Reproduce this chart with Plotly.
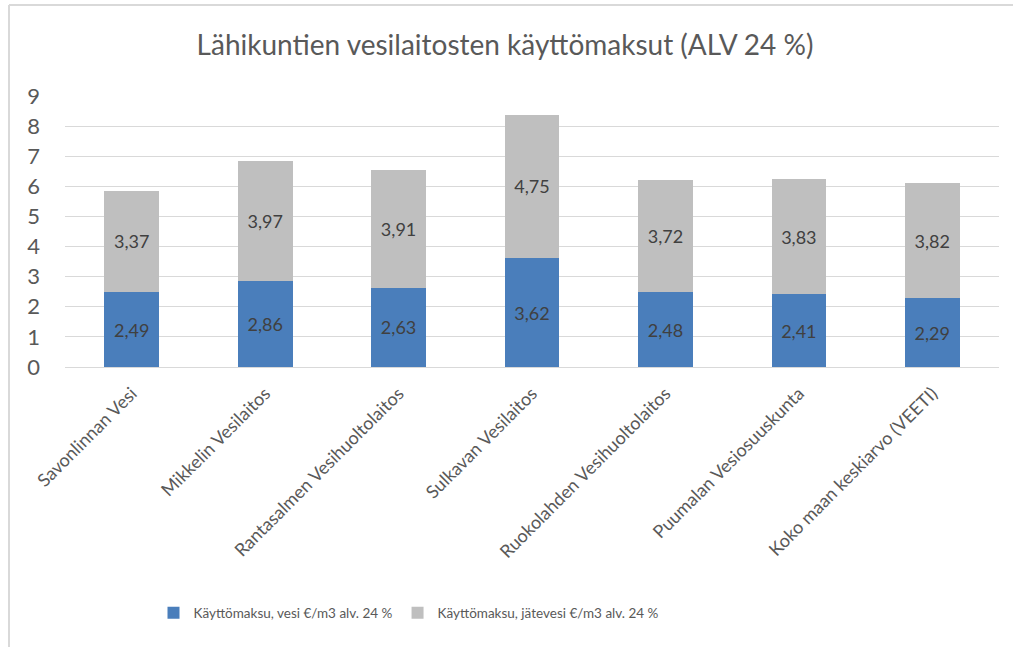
import plotly.graph_objects as go

categories = ["Savonlinnan Vesi", "Mikkelin Vesilaitos", "Rantasalmen Vesihuoltolaitos",
              "Sulkavan Vesilaitos", "Ruokolahden Vesihuoltolaitos", "Puumalan Vesiosuuskunta",
              "Koko maan keskiarvo (VEETI)"]
vesi = [2.49, 2.86, 2.63, 3.62, 2.48, 2.41, 2.29]
jatevesi = [3.37, 3.97, 3.91, 4.75, 3.72, 3.83, 3.82]
series_names = ["Käyttömaksu, vesi €/m3 alv. 24 %", "Käyttömaksu, jätevesi €/m3 alv. 24 %"]
title_text = "Lähikuntien vesilaitosten käyttömaksut (ALV 24 %)"
y_ticks = list(range(0, 10))

FONT = "Lato"
TXT = "#595959"

fig = go.Figure()
for vals, name, col in [(vesi, series_names[0], "#4a7ebb"), (jatevesi, series_names[1], "#bfbfbf")]:
    fig.add_trace(go.Bar(
        x=categories, y=vals, name=name, marker=dict(color=col, line=dict(width=0)),
        width=0.41, texttemplate="%{y:.2f}", textposition="inside", insidetextanchor="middle",
        textfont=dict(family=FONT, size=18, color="#404040"), hoverinfo="skip",
    ))

W, H = 1013, 647
L, R, T, B = 65, 14, 96, 280
pw, ph = W - L - R, H - T - B

def px_x(p):
    return (p - L) / pw

def px_y(p):
    return (H - B - p) / ph

fig.update_layout(
    width=W, height=H, barmode="stack", separators=", ",
    paper_bgcolor="white", plot_bgcolor="white",
    margin=dict(l=L, r=R, t=T, b=B, autoexpand=False),
    title=dict(text=title_text, x=505 / W, xref="container", xanchor="center",
               y=1 - 45 / H, yref="container", yanchor="middle",
               font=dict(family=FONT, size=28, color=TXT)),
    font=dict(family=FONT, color=TXT),
    showlegend=True,
    legend=dict(orientation="h", x=px_x(409), xanchor="center", y=px_y(613), yanchor="middle",
                font=dict(family=FONT, size=13.5, color=TXT), traceorder="normal",
                itemwidth=30),
    xaxis=dict(tickangle=-45, tickfont=dict(family=FONT, size=18, color=TXT),
               showline=True, linecolor="#d9d9d9", linewidth=1, ticks="", showgrid=False,
               ticklabelstandoff=8),
    yaxis=dict(range=[0, 9], tickvals=y_ticks, tickfont=dict(family=FONT, size=22, color=TXT),
               showgrid=True, gridcolor="#d9d9d9", gridwidth=1, zeroline=False, showline=False,
               ticks="", ticklabelstandoff=24),
    shapes=[
        dict(type="line", xref="paper", yref="paper", x0=px_x(9), x1=px_x(1013), y0=px_y(5), y1=px_y(5),
             line=dict(color="#d9d9d9", width=2)),
        dict(type="line", xref="paper", yref="paper", x0=px_x(9), x1=px_x(9), y0=px_y(5), y1=px_y(647),
             line=dict(color="#d9d9d9", width=2)),
    ],
)

fig.write_html("out.html", config={"displayModeBar": False},
               post_script="document.body.style.margin='0';document.body.style.overflow='hidden';")
